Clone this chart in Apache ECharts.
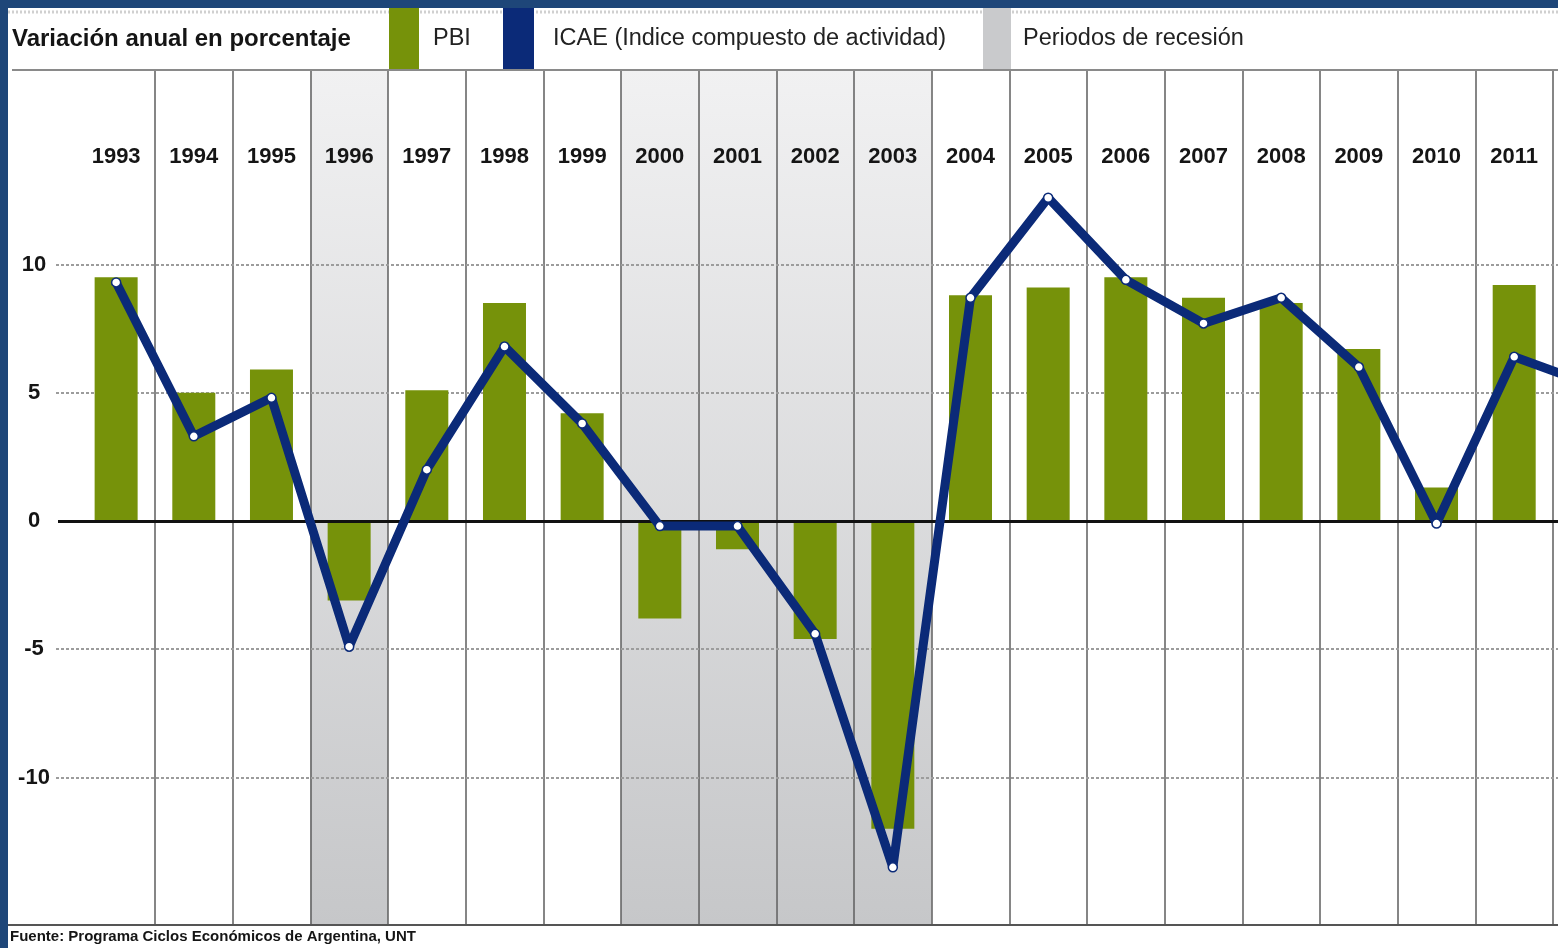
<!DOCTYPE html>
<html><head><meta charset="utf-8">
<script src="https://cdn.jsdelivr.net/npm/echarts@6/dist/echarts.min.js"></script>
<style>
html,body{margin:0;padding:0;width:1558px;height:948px;overflow:hidden;background:#1e4679;}
#c{position:absolute;left:8px;top:8px;width:1660px;height:940px;background:#fff;}
</style></head><body><div id="c"></div>
<script>
const years = ['1993','1994','1995','1996','1997','1998','1999','2000','2001','2002','2003','2004','2005','2006','2007','2008','2009','2010','2011','2012'];
const pbi = [9.5, 5.0, 5.9, -3.1, 5.1, 8.5, 4.2, -3.8, -1.1, -4.6, -12.0, 8.8, 9.1, 9.5, 8.7, 8.5, 6.7, 1.3, 9.2, null];
const icae = [9.3, 3.3, 4.8, -4.9, 2.0, 6.8, 3.8, -0.2, -0.2, -4.4, -13.5, 8.7, 12.6, 9.4, 7.7, 8.7, 6.0, -0.1, 6.4, 5.3];
const recessionYears = ['1996','2000','2001','2002','2003'];
const yLabelValues = [-10, -5, 0, 5, 10];
const dottedGridValues = [-10, -5, 5, 10];

const FONT = "'Liberation Sans', Arial, sans-serif";
const GREEN = '#76920a';
const NAVY = '#0b2a78';
const GRAY = '#c9cacc';

const chart = echarts.init(document.getElementById('c'), null, {renderer: 'canvas'});

const recessionAreas = recessionYears.map(y => [{xAxis: y}, {xAxis: y}]);

chart.setOption({
  animation: false,
  backgroundColor: '#ffffff',
  title: [
    {text: 'Variación anual en porcentaje', left: 4, top: 19, padding: 0,
     textStyle: {fontFamily: FONT, fontWeight: 'bold', fontSize: 24, lineHeight: 24, color: '#151515'}},
    {text: 'Fuente: Programa Ciclos Económicos de Argentina, UNT', left: 2, top: 921, padding: 0,
     textStyle: {fontFamily: FONT, fontWeight: 'bold', fontSize: 15, lineHeight: 15, color: '#151515'}}
  ],
  legend: [
    {data: [{name: 'PBI', itemStyle: {color: GREEN, borderWidth: 0}}], left: 381, top: 0, padding: 0,
     icon: 'rect', itemWidth: 30, itemHeight: 62, selectedMode: false,
     textStyle: {fontFamily: FONT, fontSize: 23.5, color: '#222', padding: [0, 0, 0, 9]}},
    {data: [{name: 'ICAE (Indice compuesto de actividad)', itemStyle: {color: NAVY, borderWidth: 0}}], left: 495, top: 0, padding: 0,
     icon: 'rect', itemWidth: 31, itemHeight: 62, selectedMode: false,
     textStyle: {fontFamily: FONT, fontSize: 23.5, color: '#222', padding: [0, 0, 0, 14]}},
    {data: [{name: 'Periodos de recesión', itemStyle: {color: GRAY, borderWidth: 0}}], left: 975, top: 0, padding: 0,
     icon: 'rect', itemWidth: 28, itemHeight: 62, selectedMode: false,
     textStyle: {fontFamily: FONT, fontSize: 23.5, color: '#222', padding: [0, 0, 0, 7]}}
  ],
  grid: {left: 69.3, top: 62, width: 1553.4, height: 855, containLabel: false, outerBoundsMode: 'none'},
  xAxis: {
    type: 'category', data: years, position: 'top', z: 2,
    axisLine: {show: false}, axisTick: {show: false},
    axisLabel: {inside: true, interval: 0, margin: 86.7, verticalAlign: 'middle', fontFamily: FONT, fontWeight: 'bold', fontSize: 22, color: '#151515'},
    splitLine: {show: true, interval: (i) => i !== 0, lineStyle: {color: '#5e5e5e', width: 1.5}}
  },
  yAxis: {
    type: 'value', min: -15.75, max: 17.58,
    axisLine: {show: false}, axisTick: {show: false}, splitLine: {show: false},
    axisLabel: {customValues: yLabelValues, align: 'center', margin: 43.3, fontFamily: FONT, fontWeight: 'bold', fontSize: 22, color: '#151515'}
  },
  graphic: [
    {type: 'line', shape: {x1: 0, y1: 4, x2: 1660, y2: 4}, style: {stroke: '#d0d0d0', lineWidth: 3, lineDash: [2, 2]}, z: -1, silent: true},
    {type: 'line', shape: {x1: 4, y1: 62, x2: 1660, y2: 62}, style: {stroke: '#8a8a8a', lineWidth: 2}, z: 10, silent: true},
    {type: 'line', shape: {x1: 0, y1: 917, x2: 1660, y2: 917}, style: {stroke: '#555555', lineWidth: 2}, z: 10, silent: true}
  ],
  series: [
    {
      name: 'Periodos de recesión', type: 'bar', data: years.map(() => null), z: 1,
      barWidth: 43, barGap: '-100%',
      itemStyle: {color: GRAY},
      markArea: {
        silent: true, z: 1,
        itemStyle: {color: new echarts.graphic.LinearGradient(0, 0, 0, 1, [
          {offset: 0, color: '#f1f1f2'}, {offset: 1, color: '#c6c7c9'}])},
        data: recessionAreas
      },
      markLine: {
        silent: true, z: 2, symbol: ['none', 'none'], label: {show: false},
        lineStyle: {color: '#9c9c9c', width: 2, type: [3, 2]},
        emphasis: {disabled: true},
        data: dottedGridValues.map(v => ({yAxis: v, x: 48}))
      }
    },
    {
      name: 'PBI', type: 'bar', data: pbi, z: 3, barWidth: 43, barGap: '-100%',
      itemStyle: {color: GREEN},
      markLine: {
        silent: true, z: 4, symbol: ['none', 'none'], label: {show: false},
        lineStyle: {color: '#111111', width: 3, type: 'solid'},
        emphasis: {disabled: true},
        data: [{yAxis: 0, x: 50}]
      }
    },
    {
      name: 'ICAE (Indice compuesto de actividad)', type: 'line', data: icae, z: 5,
      symbol: 'circle', symbolSize: 9, showSymbol: true,
      lineStyle: {color: NAVY, width: 9},
      itemStyle: {color: '#ffffff', borderColor: NAVY, borderWidth: 1.5},
      emphasis: {disabled: true}
    }
  ]
});
</script></body></html>
